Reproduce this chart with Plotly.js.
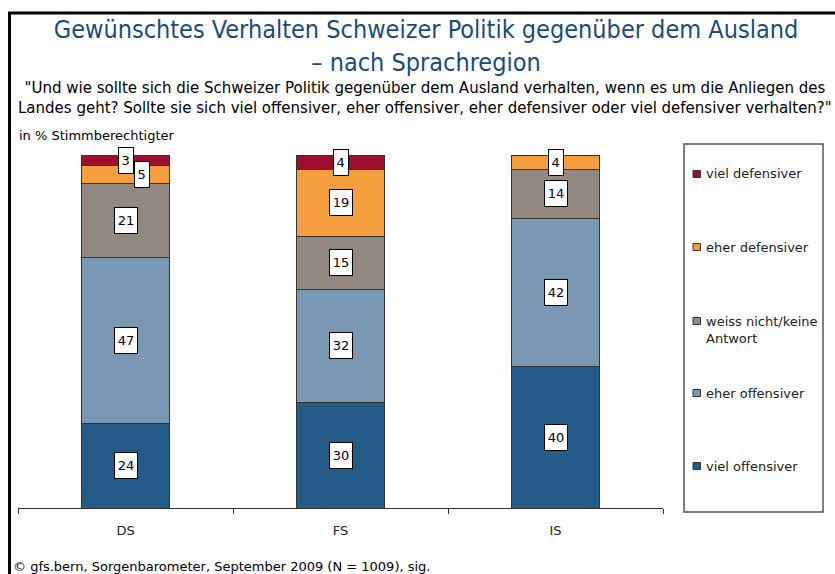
<!DOCTYPE html>
<html>
<head>
<meta charset="utf-8">
<script src="https://cdn.plot.ly/plotly-3.0.1.min.js"></script>
<style>html,body{margin:0;padding:0;background:#fff;}</style>
</head>
<body>
<div id="chart" style="width:835px;height:574px;"></div>
<script>
// ---- data ----
const categories = ["DS", "FS", "IS"];
const seriesNames = ["viel offensiver", "eher offensiver", "weiss nicht/keine<br>Antwort", "eher defensiver", "viel defensiver"];
const vielOffensiver = [24, 30, 40];
const eherOffensiver = [47, 32, 42];
const weissNicht = [21, 15, 14];
const eherDefensiver = [5, 19, 4];
const vielDefensiver = [3, 4, 0];
const seriesColors = ["#255B88", "#7A98B4", "#918880", "#F59E3E", "#9C0F2E"];

const titleText = "Gewünschtes Verhalten Schweizer Politik gegenüber dem Ausland<br>– nach Sprachregion";
const subtitleText = "\"Und wie sollte sich die Schweizer Politik gegenüber dem Ausland verhalten, wenn es um die Anliegen des<br>Landes geht? Sollte sie sich viel offensiver, eher offensiver, eher defensiver oder viel defensiver verhalten?\"";
const unitText = "in % Stimmberechtigter";
const sourceText = "© gfs.bern, Sorgenbarometer, September 2009 (N = 1009), sig.";

const allSeries = [vielOffensiver, eherOffensiver, weissNicht, eherDefensiver, vielDefensiver];

// ---- layout helpers (pixel -> paper) ----
const W = 835, H = 574;
const L = 18, R = 663, T = 155, B = 508;
const X = px => (px - L) / (R - L);
const Y = py => (B - py) / (B - T);

const font = "DejaVu Sans, Verdana, sans-serif";
const condFont = "DejaVu Sans Condensed, Liberation Sans, Arial, sans-serif";

const traces = allSeries.map((vals, i) => ({
  type: "bar",
  name: seriesNames[i],
  x: categories,
  y: vals,
  marker: {color: seriesColors[i], line: {color: "#333", width: 1}},
  hoverinfo: "none",
  showlegend: false
}));

const annotations = [];
// value labels in white boxes
categories.forEach((cat, ci) => {
  let base = 0;
  allSeries.forEach((vals, si) => {
    const v = vals[ci];
    if (v > 0) {
      const s = String(v);
      annotations.push({
        x: cat, y: base + v / 2, xref: "x", yref: "y",
        text: s, showarrow: false,
        font: {family: font, size: 13, color: "#000"},
        bgcolor: "#fff", bordercolor: "#000", borderwidth: 1, borderpad: 2,
        width: s.length * 8.5 + 1, height: 21,
        xshift: (ci === 0 && si === 3) ? 16 : 0
      });
    }
    base += v;
  });
});

// subtitle, unit, source
annotations.push({xref: "paper", yref: "paper", x: X(425), y: Y(77), xanchor: "center", yanchor: "top",
  text: subtitleText, showarrow: false, align: "center",
  font: {family: font, size: 15, color: "#000"}});
annotations.push({xref: "paper", yref: "paper", x: X(17), y: Y(135), xanchor: "left", yanchor: "middle",
  text: unitText, showarrow: false, font: {family: font, size: 13, color: "#000"}});
annotations.push({xref: "paper", yref: "paper", x: X(11), y: Y(566), xanchor: "left", yanchor: "middle",
  text: sourceText, showarrow: false, font: {family: font, size: 13, color: "#000"}});

// manual legend
const shapes = [];
const legendY = [466, 393, 321, 247, 174];
seriesNames.forEach((n, i) => {
  const cy = legendY[i];
  shapes.push({type: "rect", xref: "paper", yref: "paper",
    x0: X(693), x1: X(700.5), y0: Y(cy + 3.5), y1: Y(cy - 3.5),
    fillcolor: seriesColors[i], line: {color: "#333", width: 1}});
  const multi = n.indexOf("<br>") >= 0;
  annotations.push({xref: "paper", yref: "paper", x: X(704), y: multi ? Y(cy - 9) : Y(cy),
    xanchor: "left", yanchor: multi ? "top" : "middle", align: "left",
    text: n, showarrow: false, font: {family: font, size: 13, color: "#222"}});
});
shapes.push({type: "rect", xref: "paper", yref: "paper",
  x0: X(684), x1: X(823), y0: Y(512), y1: Y(144), line: {color: "#555", width: 1.5}});
// frame lines
shapes.push({type: "line", xref: "paper", yref: "paper", x0: X(8), x1: X(835), y0: Y(13), y1: Y(13), line: {color: "#000", width: 3}});
shapes.push({type: "line", xref: "paper", yref: "paper", x0: X(9.5), x1: X(9.5), y0: Y(12), y1: Y(574), line: {color: "#000", width: 3}});

const layout = {
  width: W, height: H,
  margin: {l: L, r: W - R, t: T, b: H - B, pad: 0},
  paper_bgcolor: "#fff", plot_bgcolor: "#fff",
  barmode: "stack", bargap: 0.595,
  showlegend: false,
  title: {text: titleText, x: 426 / W, xanchor: "center", y: 1 - 38 / H, yanchor: "top", yref: "container",
    font: {family: condFont, size: 25, color: "#1B4B78"}},
  xaxis: {
    type: "category", range: [-0.5, 2.5], fixedrange: true,
    showline: true, linecolor: "#333", linewidth: 1,
    ticks: "outside", tickson: "boundaries", ticklen: 5, tickcolor: "#333", tickwidth: 1,
    ticklabelstandoff: 10,
    showgrid: false, zeroline: false,
    tickfont: {family: font, size: 13, color: "#222"}
  },
  yaxis: {range: [0, 100], visible: false, fixedrange: true, showgrid: false, zeroline: false},
  annotations: annotations,
  shapes: shapes
};

Plotly.newPlot("chart", traces, layout, {displayModeBar: false, staticPlot: true});
</script>
</body>
</html>
